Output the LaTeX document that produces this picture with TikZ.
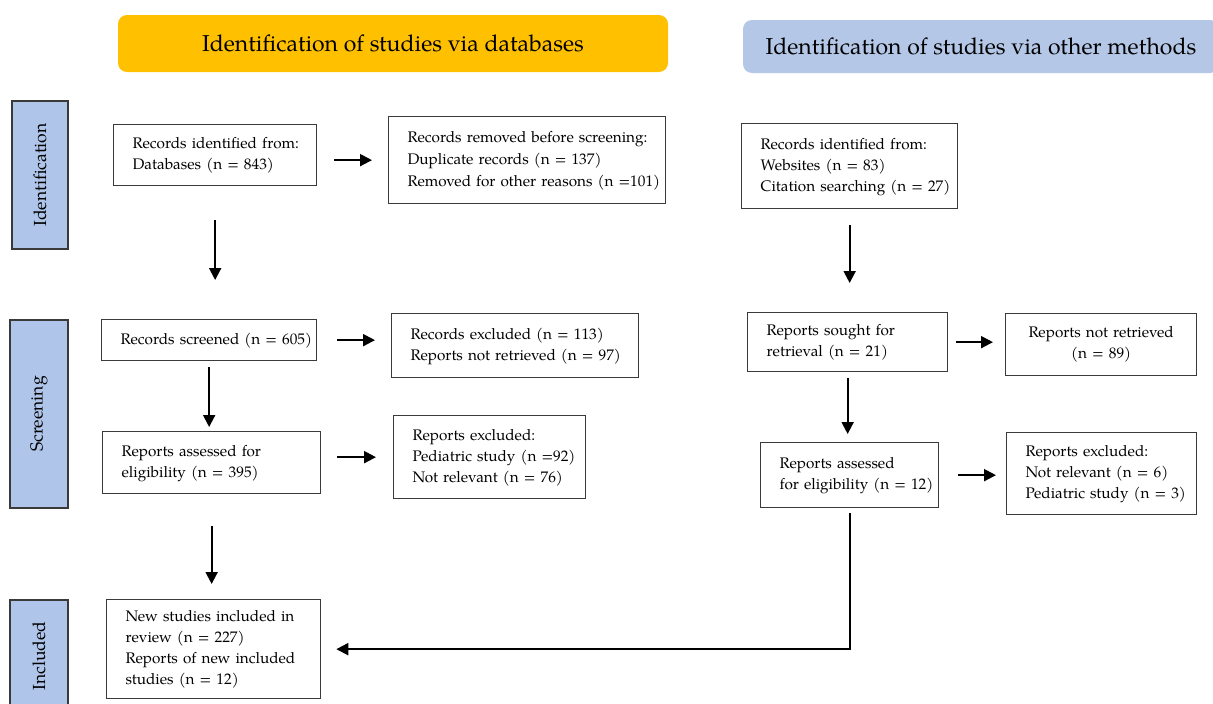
\documentclass[tikz,border=0pt]{standalone}
\usepackage{fontspec}
\setmainfont{TeX Gyre Pagella}
\usetikzlibrary{arrows.meta,calc}
\definecolor{hdrorange}{HTML}{FFC000}
\definecolor{hdrblue}{HTML}{B4C7E7}
\definecolor{sidebar}{HTML}{AFC5E9}
\definecolor{edge}{HTML}{3A3A3A}
\newcommand\tb[1]{\begin{tabular}{@{}l@{}}#1\end{tabular}}
\begin{document}
\begin{tikzpicture}[x=1pt,y=-1pt,
  box/.style={draw=edge, line width=1.3pt, fill=white, anchor=north west,
    inner xsep=19pt, inner ysep=0pt, align=left, font=\fontsize{15.3}{21}\selectfont},
  side/.style={draw=edge, line width=1.5pt, fill=sidebar, rotate=90, inner sep=0pt,
    font=\fontsize{17.5}{20}\selectfont},
  hdr/.style={rounded corners=9pt, inner sep=0pt, font=\fontsize{23}{27}\selectfont},
  arr/.style={line width=2pt, -{Triangle[length=12pt,width=12pt]}}
]
\clip (0,0) rectangle (1213,704);
\fill[white] (0,0) rectangle (1213,704);

% headers
\node[hdr, fill=hdrorange, minimum width=550pt, minimum height=57pt] (h1) at (393,43.5) {Identification of studies via databases};
\node[hdr, fill=hdrblue, minimum width=476pt, minimum height=53pt] (h2) at (981,46.5) {Identification of studies via other methods};

% side bars
\node[side, minimum width=148pt, minimum height=56pt] (s1) at (40,175) {Identification};
\node[side, minimum width=188pt, minimum height=58pt] (s2) at (39,414) {Screening};
\node[side, minimum width=112pt, minimum height=58pt] (s3) at (39,656) {Included};

% left column
\node[box, text width=165pt, minimum height=61pt] (b1) at (113,124) {\tb{Records identified from:\\Databases (n = 843)}};
\node[box, text width=239pt, minimum height=87pt, font=\fontsize{15.3}{22}\selectfont] (b2) at (388,116) {\tb{Records removed before screening:\\Duplicate records (n = 137)\\Removed for other reasons (n =101)}};
\node[box, text width=177pt, minimum height=41pt] (b3) at (101,319) {\tb{Records screened (n = 605)}};
\node[box, text width=209pt, minimum height=64pt] (b4) at (391,313) {\tb{Records excluded (n = 113)\\Reports not retrieved (n = 97)}};
\node[box, text width=180pt, minimum height=62pt] (b5) at (102,431) {\tb{Reports assessed for\\eligibility (n = 395)}};
\node[box, text width=154pt, minimum height=83pt] (b6) at (393,415) {\tb{Reports excluded:\\Pediatric study (n =92)\\Not relevant (n = 76)}};
\node[box, text width=176pt, minimum height=99pt] (b7) at (106,599) {\tb{New studies included in\\review (n = 227)\\Reports of new included\\studies (n = 12)}};

% right column
\node[box, text width=178pt, minimum height=85pt] (r1) at (741,123) {\tb{Records identified from:\\Websites (n = 83)\\Citation searching (n = 27)}};
\node[box, text width=162pt, minimum height=59pt] (r2) at (747,312) {\tb{Reports sought for\\retrieval (n = 21)}};
\node[box, text width=153pt, minimum height=62pt, align=center] (r3) at (1005,313) {Reports not retrieved\\(n = 89)};
\node[box, text width=140pt, minimum height=65pt] (r4) at (760,442) {\tb{Reports assessed\\for eligibility (n = 12)}};
\node[box, text width=152pt, minimum height=82pt] (r5) at (1006,432) {\tb{Reports excluded:\\Not relevant (n = 6)\\Pediatric study (n = 3)}};

% arrows left
\draw[arr, shorten <=17pt, shorten >=16pt] (b1.east |- b2.west) -- (b2.west);
\draw[arr, shorten <=34pt, shorten >=39pt] (b1.south) -- (b1.south |- b3.north);
\draw[arr, shorten <=20pt, shorten >=16pt] (b3.east) -- (b3.east -| b4.west);
\draw[arr, shorten <=6pt, shorten >=4pt] (b3.south) -- (b3.south |- b5.north);
\draw[arr, shorten <=16pt, shorten >=17pt] (b5.east |- b6.west) -- (b6.west);
\draw[arr, shorten <=32pt, shorten >=15pt] (b5.south) -- (b5.south |- b7.north);

% arrows right
\draw[arr, shorten <=16pt, shorten >=29pt] (r1.south) -- (r1.south |- r2.north);
\draw[arr, shorten <=8pt, shorten >=12pt] (r2.east) -- (r2.east -| r3.west);
\draw[arr, shorten <=6pt, shorten >=8pt] (r2.south) -- (r2.south |- r4.north);
\draw[arr, shorten <=19pt, shorten >=10pt] (r4.east) -- (r4.east -| r5.west);
\draw[arr, shorten <=5pt, shorten >=15pt] (r4.south) -- (r4.south |- b7.east) -- (b7.east);
\end{tikzpicture}
\end{document}
